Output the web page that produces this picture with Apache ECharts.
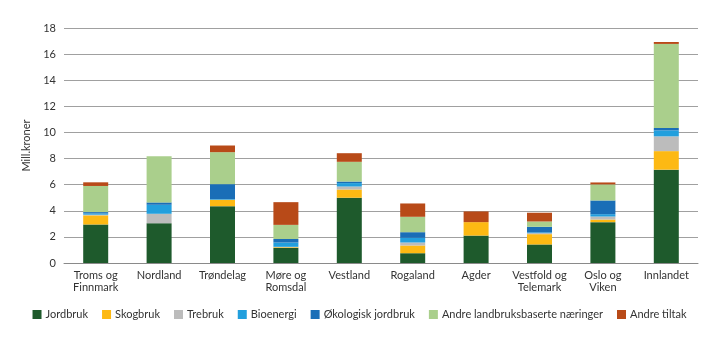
<!DOCTYPE html>
<html><head><meta charset="utf-8">
<script src="https://cdn.jsdelivr.net/npm/echarts@6/dist/echarts.min.js"></script>
<style>html,body{margin:0;padding:0;background:#fff}#c{width:719px;height:341px}</style>
</head><body><div id="c"></div>
<script>
const categories = ['Troms og\nFinnmark','Nordland','Trøndelag','Møre og\nRomsdal','Vestland','Rogaland','Agder','Vestfold og\nTelemark','Oslo og\nViken','Innlandet'];
const jordbruk   = [2.95, 3.05, 4.35, 1.16, 5.00, 0.75, 2.10, 1.42, 3.13, 7.15];
const skogbruk   = [0.70, 0.00, 0.49, 0.05, 0.63, 0.59, 1.03, 0.79, 0.20, 1.42];
const trebruk    = [0.05, 0.72, 0.00, 0.03, 0.23, 0.23, 0.00, 0.08, 0.23, 1.13];
const bioenergi  = [0.10, 0.69, 0.05, 0.33, 0.26, 0.36, 0.00, 0.06, 0.18, 0.46];
const okologisk  = [0.10, 0.18, 1.15, 0.27, 0.12, 0.43, 0.00, 0.42, 1.05, 0.18];
const andreLandbruk = [2.00, 3.54, 2.45, 1.08, 1.51, 1.18, 0.00, 0.41, 1.23, 6.44];
const andreTiltak   = [0.28, 0.00, 0.51, 1.74, 0.66, 1.02, 0.82, 0.67, 0.15, 0.15];
const yTicks = [0,2,4,6,8,10,12,14,16,18];

const seriesDefs = [
  ['Jordbruk', jordbruk, '#1e5a2c'],
  ['Skogbruk', skogbruk, '#fdb913'],
  ['Trebruk', trebruk, '#bcbcbc'],
  ['Bioenergi', bioenergi, '#229fdd'],
  ['Økologisk jordbruk', okologisk, '#1a6eb7'],
  ['Andre landbruksbaserte næringer', andreLandbruk, '#aacf8c'],
  ['Andre tiltak', andreTiltak, '#b84a18']
];
const font = 'Lato, "Open Sans", sans-serif';
const chart = echarts.init(document.getElementById('c'), null, {renderer:'canvas'});
chart.setOption({
  animation:false,
  textStyle:{fontFamily:font},
  grid:{left:64, right:21, top:28, bottom:78},
  legend:{
    left:'center', top:304, itemWidth:9, itemHeight:9, itemGap:14,
    icon:'rect',
    textStyle:{fontFamily:font, fontSize:11, color:'#333', padding:[0,0,0,-1]},
    data: seriesDefs.map(d=>d[0])
  },
  xAxis:{
    type:'category', data:categories,
    axisLine:{show:true, lineStyle:{color:'#8a8a8a', width:1}},
    axisTick:{show:false},
    axisLabel:{fontFamily:font, fontSize:11, color:'#333', lineHeight:12, margin:6, interval:0}
  },
  yAxis:{
    type:'value', min:yTicks[0], max:yTicks[yTicks.length-1], interval:2,
    name:'Mill.kroner', nameLocation:'middle', nameGap:27,
    nameTextStyle:{fontFamily:font, fontSize:11, color:'#333'},
    axisLine:{show:false}, axisTick:{show:false},
    axisLabel:{fontFamily:font, fontSize:11, color:'#333', margin:8},
    splitLine:{lineStyle:{color:'#a0a0a0', width:1}}
  },
  series: seriesDefs.map(d=>({
    name:d[0], type:'bar', stack:'total', data:d[1], barWidth:25,
    itemStyle:{color:d[2]}
  }))
});
</script></body></html>
